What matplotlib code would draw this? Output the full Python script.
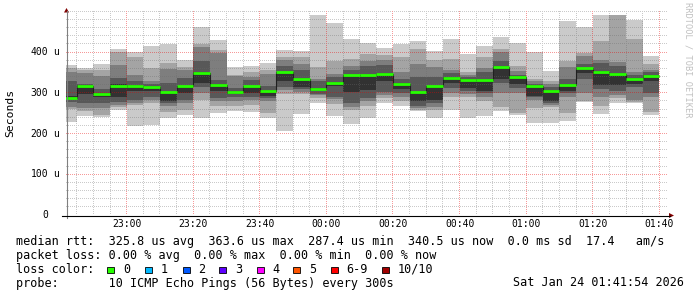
import matplotlib
matplotlib.use('Agg')
import matplotlib.pyplot as plt
import matplotlib.dates as mdates
from matplotlib.patches import Rectangle, Polygon
from matplotlib.lines import Line2D
from matplotlib.ticker import MultipleLocator, FixedLocator
from datetime import datetime, timedelta
import numpy as np

# ---------------- data (microseconds) ----------------
start = datetime(2026, 1, 23, 22, 40)
times = [start + timedelta(minutes=5 * i) for i in range(36)]

# sorted pings per 5-minute interval, lowest (ping1) to highest (ping10)
ping10 = [369, 360, 371, 408, 400, 416, 420, 381, 462, 429, 363, 365, 374, 405, 403, 491, 471, 432,
          422, 411, 419, 428, 403, 432, 396, 415, 436, 422, 401, 354, 477, 461, 491, 492, 479, 391]
ping9 = [360, 355, 357, 401, 389, 360, 373, 364, 419, 405, 345, 350, 356, 387, 389, 364, 377, 382,
         396, 393, 389, 407, 381, 382, 350, 389, 407, 367, 335, 330, 377, 397, 428, 490, 432, 371]
ping8 = [352, 348, 342, 369, 344, 330, 359, 356, 413, 398, 342, 340, 346, 380, 370, 334, 346, 367,
         378, 381, 352, 370, 363, 356, 344, 360, 401, 354, 328, 322, 363, 391, 380, 375, 350, 356]
ping7 = [330, 322, 310, 336, 328, 322, 324, 336, 377, 332, 312, 331, 317, 367, 356, 329, 338, 355,
         367, 369, 333, 340, 340, 348, 338, 350, 378, 344, 322, 315, 334, 370, 373, 365, 344, 350]
ping6 = [292, 319, 300, 322, 320, 318, 303, 318, 350, 322, 305, 318, 306, 352, 337, 311, 326, 344,
         345, 349, 324, 302, 318, 338, 334, 333, 366, 342, 319, 307, 321, 362, 353, 349, 337, 343]
ping5 = [284, 296, 290, 290, 304, 305, 279, 299, 325, 305, 298, 300, 292, 328, 315, 305, 317, 303,
         307, 328, 310, 279, 283, 323, 312, 305, 334, 322, 293, 281, 305, 348, 320, 319, 322, 330]
ping4 = [277, 274, 276, 278, 283, 290, 274, 283, 314, 288, 290, 291, 287, 315, 310, 297, 291, 274,
         287, 303, 300, 268, 276, 311, 304, 300, 323, 311, 290, 276, 299, 334, 309, 305, 314, 300]
ping3 = [266, 262, 262, 270, 275, 283, 268, 275, 299, 280, 281, 283, 280, 307, 303, 294, 285, 266,
         280, 295, 290, 262, 266, 299, 298, 290, 300, 300, 282, 270, 290, 300, 290, 295, 283, 291]
ping2 = [260, 256, 246, 265, 270, 275, 254, 258, 283, 268, 268, 270, 250, 298, 298, 287, 272, 258,
         268, 288, 281, 258, 258, 290, 290, 280, 266, 250, 262, 265, 250, 279, 268, 287, 278, 254]
ping1 = [229, 242, 240, 258, 219, 221, 239, 246, 239, 251, 256, 254, 238, 207, 248, 274, 242, 224,
         238, 276, 268, 256, 239, 258, 238, 243, 256, 246, 226, 226, 232, 278, 248, 275, 274, 246]
median = [288, 317, 298, 316, 318, 315, 301, 317, 348, 319, 303, 317, 305, 351, 335, 310, 324, 344,
          344, 347, 322, 301, 316, 336, 332, 331, 364, 340, 317, 305, 319, 360, 351, 347, 335, 341]

yticks = [0, 100, 200, 300, 400]
loss_labels = ['0', '1', '2', '3', '4', '5', '6-9', '10/10']
loss_colors = ['#26ff00', '#00b8ff', '#0059ff', '#5e00ff', '#ff00ff', '#ff5500', '#ff0000', '#a10000']

# ---------------- figure ----------------
W, H = 697, 297
fig = plt.figure(figsize=(W / 100, H / 100), dpi=100)
fig.patch.set_facecolor('white')
MONO = 'DejaVu Sans Mono'

L, R, B, T = 66, 668, 215, 11
ax = fig.add_axes([L / W, (H - B) / H, (R - L) / W, (B - T) / H])
ax.set_facecolor('white')
for s in ax.spines.values():
    s.set_visible(False)

x = mdates.date2num(times)
w = 5.0 / 1440.0

lows = [ping1, ping2, ping3, ping4, ping5]
highs = [ping10, ping9, ping8, ping7, ping6]
smoke = ['#cacaca', '#a4a4a4', '#7e7e7e', '#585858', '#323232']
for lo, hi, c in zip(lows, highs, smoke):
    lo = np.array(lo, float)
    hi = np.array(hi, float)
    ax.bar(x, hi - lo, width=w, bottom=lo, align='edge', color=c,
           linewidth=0, antialiased=False, zorder=1)

edges = np.append(x, x[-1] + w)
ax.stairs(median, edges, baseline=None, color='#202020', lw=0.8, zorder=3)
ax.hlines(median, x, x + w, colors='#26ff00', lw=2.0, zorder=4)

t0 = mdates.date2num(datetime(2026, 1, 23, 22, 41, 46))
t1 = mdates.date2num(datetime(2026, 1, 24, 1, 42, 37))
YMAX = 501
ax.set_xlim(t0, t1)
ax.set_ylim(0, YMAX)

ax.xaxis.set_major_locator(mdates.MinuteLocator(byminute=[0, 20, 40]))
ax.xaxis.set_minor_locator(mdates.MinuteLocator(byminute=range(0, 60, 5)))
ax.xaxis.set_major_formatter(mdates.DateFormatter('%H:%M'))
ax.yaxis.set_major_locator(FixedLocator(yticks))
ax.yaxis.set_minor_locator(MultipleLocator(20))
ax.set_yticklabels([])
ax.tick_params(axis='x', which='major', length=0, pad=3.2, labelsize=7, labelcolor='#000000')
ax.tick_params(axis='both', which='minor', length=0)
ax.tick_params(axis='y', which='major', length=0)
for lab in ax.get_xticklabels():
    lab.set_family(MONO)

# ---------------- dotted grid as pixel overlay (positions from axes transform) ----------------
aw, ah = R - L, B - T
grid = np.zeros((ah, aw, 4))
minor_rgba = (0.42, 0.42, 0.42, 0.36)
major_rgba = (0.92, 0.0, 0.0, 0.40)
top_disp = H - T

def hline(v, rgba):
    yd = ax.transData.transform((t0, v))[1]
    r = int(np.clip(np.floor(top_disp - yd), 0, ah - 1))
    grid[r, ::2] = rgba

def vline(t, rgba):
    xd = ax.transData.transform((t, 0))[0]
    c = int(np.floor(xd - L))
    if 0 <= c < aw:
        grid[::2, c] = rgba

for v in ax.yaxis.get_minorticklocs():
    if 0 < v < YMAX and v not in yticks:
        hline(v, minor_rgba)
for t in ax.xaxis.get_minorticklocs():
    vline(t, minor_rgba)
for v in yticks:
    if v > 0:
        hline(v, major_rgba)
for t in ax.xaxis.get_majorticklocs():
    vline(t, major_rgba)

ax.imshow(grid, extent=(0, 1, 0, 1), transform=ax.transAxes, interpolation='nearest',
          aspect='auto', zorder=2.5)
ax.set_xlim(t0, t1)
ax.set_ylim(0, YMAX)

ytr = ax.get_yaxis_transform()
for v in yticks:
    ax.text(-18.0 / (R - L), v, str(v), ha='right', va='center', transform=ytr,
            family=MONO, size=7, color='#000000')
    if v:
        ax.text(-9.5 / (R - L), v, 'u', ha='center', va='center', transform=ytr,
                family=MONO, size=7, color='#000000')

# ---------------- axes lines and arrows (figure pixels) ----------------
def fx(px):
    return px / W

def fy(py):
    return 1 - py / H

fig.add_artist(Line2D([fx(66.5), fx(66.5)], [fy(218), fy(11)], color='#808080', lw=0.8))
fig.add_artist(Line2D([fx(62), fx(670)], [fy(215.5), fy(215.5)], color='#000000', lw=0.8))
fig.add_artist(Polygon([[fx(64), fy(12.5)], [fx(69), fy(12.5)], [fx(66.5), fy(8)]],
                       closed=True, fc='#800000', ec='none', transform=fig.transFigure))
fig.add_artist(Polygon([[fx(669), fy(213)], [fx(669), fy(218)], [fx(674), fy(215.5)]],
                       closed=True, fc='#800000', ec='none', transform=fig.transFigure))

# ---------------- texts ----------------
fig.text(fx(10), fy(113), 'Seconds', rotation=90, ha='center', va='center',
         family=MONO, size=8.2, color='#000000')
fig.text(fx(688), fy(60), 'RRDTOOL / TOBI OETIKER', rotation=270, ha='center', va='center',
         family=MONO, size=6.2, color='#c0c0c0')

FS = 8.5
fig.text(fx(15.5), fy(241), 'median rtt:  325.8 us avg  363.6 us max  287.4 us min  340.5 us now  0.0 ms sd  17.4   am/s',
         ha='left', va='center', family=MONO, size=FS)
fig.text(fx(15.5), fy(255), 'packet loss: 0.00 % avg  0.00 % max  0.00 % min  0.00 % now',
         ha='left', va='center', family=MONO, size=FS)
fig.text(fx(15.5), fy(269.5), 'loss color:', ha='left', va='center', family=MONO, size=FS)
fig.text(fx(15.5), fy(283), 'probe:       10 ICMP Echo Pings (56 Bytes) every 300s',
         ha='left', va='center', family=MONO, size=FS)
fig.text(fx(684), fy(283), 'Sat Jan 24 01:41:54 2026', ha='right', va='center', family=MONO, size=FS)

box_x = [107.3, 145.0, 182.7, 219.3, 256.7, 293.3, 330.7, 381.7]
for bx, lab, col in zip(box_x, loss_labels, loss_colors):
    fig.add_artist(Rectangle((fx(bx), fy(273.3)), 6.8 / W, 6.8 / H, transform=fig.transFigure,
                             fc=col, ec='#000000', lw=0.6))
    fig.text(fx(bx + 15.5), fy(269.5), lab, ha='left', va='center', family=MONO, size=FS)

fig.savefig('out.png', dpi=100, facecolor='white')
